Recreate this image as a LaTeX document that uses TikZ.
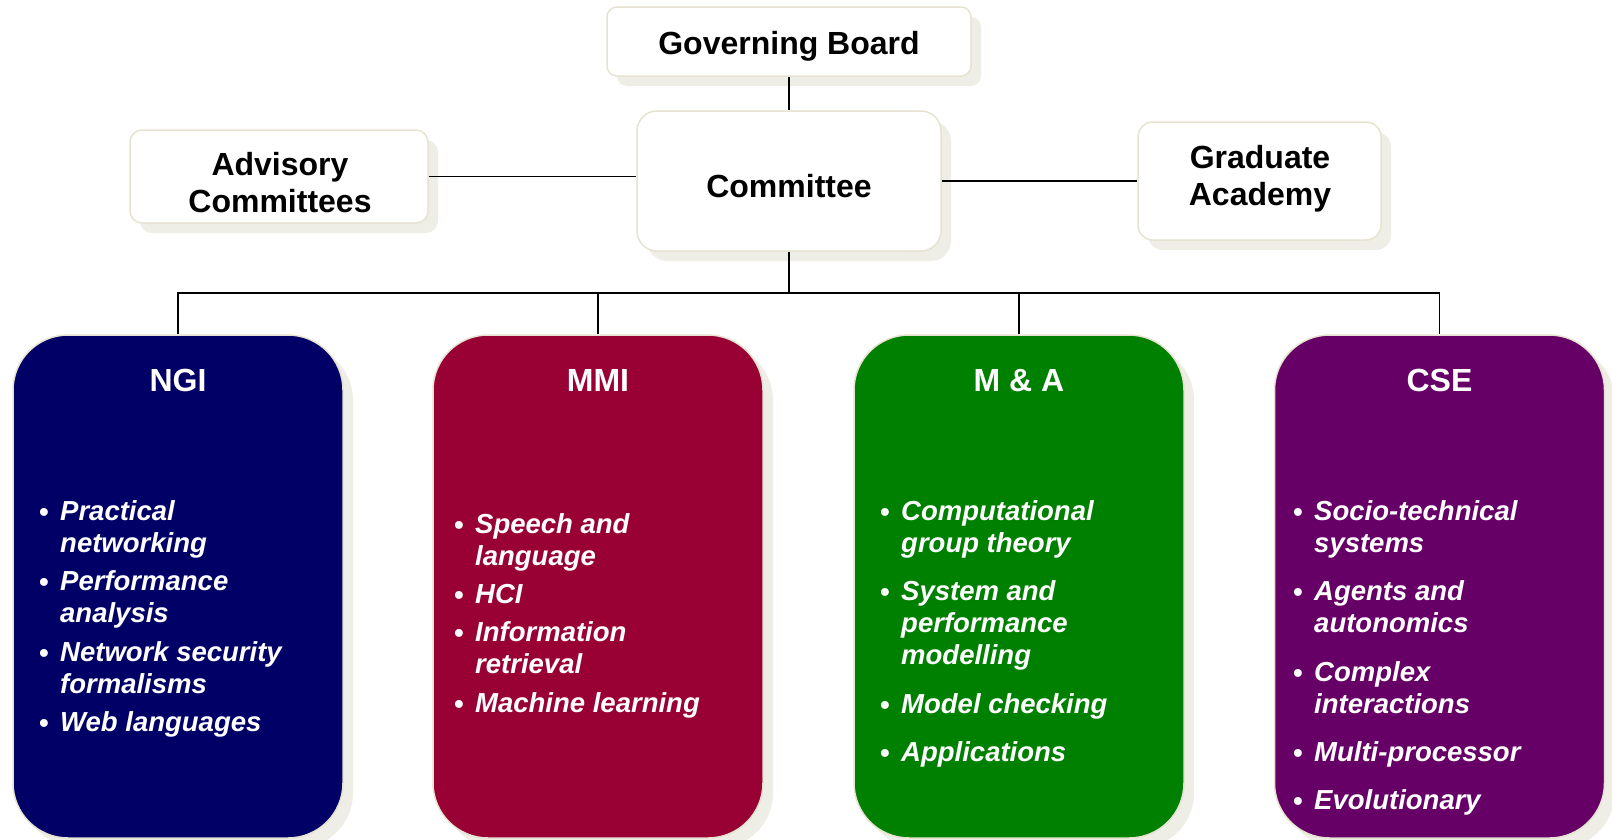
\documentclass[tikz,border=0pt]{standalone}
\usepackage{fontspec}
\setmainfont{Liberation Sans}
\usetikzlibrary{shadows}
\definecolor{shc}{HTML}{EEEDE6}
\definecolor{bdc}{HTML}{E6E3D2}
\definecolor{ngic}{HTML}{000066}
\definecolor{mmic}{HTML}{990033}
\definecolor{mac}{HTML}{008000}
\definecolor{csec}{HTML}{660066}
\newcommand{\bul}{\makebox[33pt][c]{\raisebox{-1pt}{•}}}
\newcommand{\ind}{\hspace*{33pt}}
\begin{document}
\begin{tikzpicture}[x=1pt,y=-1pt,
  topbox/.style={draw=bdc, line width=1.5pt, fill=white, inner sep=0pt,
    general shadow={fill=shc, shadow xshift=10pt, shadow yshift=-10pt}},
  deptbox/.style={draw=bdc, line width=1.5pt, inner sep=0pt, minimum width=330pt,
    minimum height=503pt, rounded corners=55pt,
    general shadow={fill=shc, shadow xshift=10pt, shadow yshift=-10pt}},
  toptext/.style={font=\fontsize{32}{37}\selectfont\bfseries, inner sep=0pt, align=center},
  title/.style={font=\fontsize{32}{37}\selectfont\bfseries, text=white, inner sep=0pt, anchor=base},
  list/.style={font=\fontsize{27.5}{32}\selectfont\bfseries\itshape, text=white, inner sep=0pt,
    align=left, anchor=north west},
  conn/.style={line width=1.6pt, black}
]
\fill[white] (0,0) rectangle (1612,839);
\useasboundingbox (0,0) rectangle (1612,839);

% top boxes
\node[topbox, minimum width=364pt, minimum height=69pt, rounded corners=10pt] (gb) at (789,41.5) {};
\node[topbox, minimum width=304pt, minimum height=140pt, rounded corners=20pt] (com) at (789,181) {};
\node[topbox, minimum width=298pt, minimum height=93pt, rounded corners=12pt] (adv) at (279,176.5) {};
\node[topbox, minimum width=243pt, minimum height=118pt, rounded corners=15pt] (ga) at (1259.5,181) {};

\node[toptext, anchor=base] (gbt) at (789,54) {Governing Board};
\node[toptext, anchor=base] (comt) at (789,197) {Committee};
\node[toptext, anchor=north] (advt) at (280,149.6) {\strut Advisory\\Committees};
\node[toptext, anchor=north] (gat) at (1260,142.6) {\strut Graduate\\Academy};

% department boxes
\node[deptbox, fill=ngic] (ngi) at (178,586.5) {};
\node[deptbox, fill=mmic] (mmi) at (598,586.5) {};
\node[deptbox, fill=mac] (ma) at (1019,586.5) {};
\node[deptbox, fill=csec] (cse) at (1439.5,586.5) {};

\node[title] (ngit) at (178,391) {NGI};
\node[title] (mmit) at (598,391) {MMI};
\node[title] (mat) at (1019,391) {M \& A};
\node[title] (cset) at (1439.5,391) {CSE};

\node[list] (ngil) at (27,498) {\strut\bul Practical\\\ind networking\\[6.3pt]\bul Performance\\\ind analysis\\[6.3pt]\bul Network security\\\ind formalisms\\[6.3pt]\bul Web languages};
\node[list] (mmil) at (442,510.6) {\strut\bul Speech and\\\ind language\\[6.3pt]\bul HCI\\[6.3pt]\bul Information\\\ind retrieval\\[6.3pt]\bul Machine learning};
\node[list] (mal) at (868,498) {\strut\bul Computational\\\ind group theory\\[16.2pt]\bul System and\\\ind performance\\\ind modelling\\[16.2pt]\bul Model checking\\[16.2pt]\bul Applications};
\node[list] (csel) at (1281,498) {\strut\bul Socio-technical\\\ind systems\\[16.2pt]\bul Agents and\\\ind autonomics\\[16.2pt]\bul Complex\\\ind interactions\\[16.2pt]\bul Multi-processor\\[16.2pt]\bul Evolutionary};

% connectors
\draw[conn] (gb.south) -- (com.north);
\draw[conn] (adv.east) -- (adv.east -| com.west);
\draw[conn] (com.east) -- (ga.west);
\coordinate (bus) at (789,293);
\draw[conn] (com.south) -- (bus);
\draw[conn] (ngi.north) |- (bus -| cse.north) -- (cse.north);
\draw[conn] (mmi.north) -- (mmi.north |- bus);
\draw[conn] (ma.north) -- (ma.north |- bus);
\end{tikzpicture}
\end{document}
